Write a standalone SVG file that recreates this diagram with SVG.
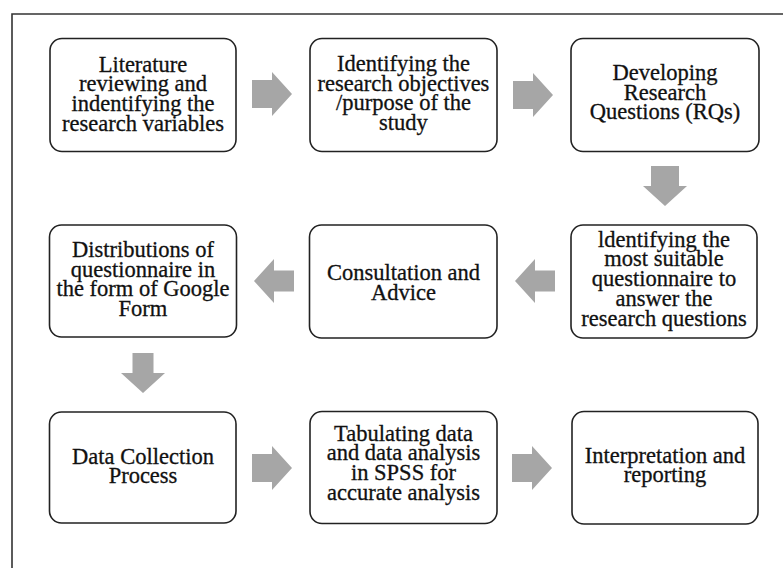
<svg xmlns="http://www.w3.org/2000/svg" xmlns:xlink="http://www.w3.org/1999/xlink" width="783" height="568" viewBox="0 0 783 568">
  <style>
    .box { fill: #ffffff; stroke: #222222; stroke-width: 1.6; }
    .lbl { font-size: 22.5px; fill: #111111; stroke: #111111; stroke-width: 0.3; text-anchor: middle; }
    .arrow { fill: #a6a6a6; stroke: none; }
    .frame { fill: none; stroke: #333333; stroke-width: 1.6; }
  </style>
  <defs>
    <!-- block arrows, drawn centred on the origin pointing right -->
    <path id="arrow-wide" d="M-20,-14 H0 V-22 L20,0 L0,22 V14 H-20 Z"/>
    <path id="arrow-thin" d="M-20,-10.5 H0 V-22 L20,0 L0,22 V10.5 H-20 Z"/>
  </defs>

  <rect width="783" height="568" fill="#ffffff"/>
  <path class="frame" d="M12,568 V14 H783"/>

  <g id="connectors" class="arrow">
    <use xlink:href="#arrow-wide" transform="translate(272,94)"/>
    <use xlink:href="#arrow-wide" transform="translate(533,95)"/>
    <use xlink:href="#arrow-wide" transform="translate(665,186) rotate(90)"/>
    <use xlink:href="#arrow-thin" transform="translate(535,281) rotate(180)"/>
    <use xlink:href="#arrow-thin" transform="translate(274,281) rotate(180)"/>
    <use xlink:href="#arrow-thin" transform="translate(143,373) rotate(90)"/>
    <use xlink:href="#arrow-wide" transform="translate(272,468)"/>
    <use xlink:href="#arrow-wide" transform="translate(532,468)"/>
  </g>

  <g font-family="'Liberation Serif', 'Times New Roman', Tinos, serif">
  <g id="literature-review">
    <rect class="box" x="50" y="38.5" width="186" height="113" rx="12"/>
    <text class="lbl" x="143" y="71.5">Literature</text>
    <text class="lbl" x="143" y="91.2">reviewing and</text>
    <text class="lbl" x="143" y="110.9">indentifying the</text>
    <text class="lbl" x="143" y="130.6">research variables</text>
  </g>

  <g id="research-objectives">
    <rect class="box" x="310" y="38.5" width="187" height="113" rx="12"/>
    <text class="lbl" x="403.5" y="71">Identifying the</text>
    <text class="lbl" x="403.5" y="90.7">research objectives</text>
    <text class="lbl" x="403.5" y="110.4">/purpose of the</text>
    <text class="lbl" x="403.5" y="130.1">study</text>
  </g>

  <g id="research-questions">
    <rect class="box" x="571" y="38.5" width="188" height="113" rx="12"/>
    <text class="lbl" x="665" y="80">Developing</text>
    <text class="lbl" x="665" y="99.7">Research</text>
    <text class="lbl" x="665" y="119.4">Questions (RQs)</text>
  </g>

  <g id="questionnaire-choice">
    <rect class="box" x="571" y="225" width="186" height="113" rx="12"/>
    <text class="lbl" x="664" y="246.7">ldentifying the</text>
    <text class="lbl" x="664" y="266.4">most suitable</text>
    <text class="lbl" x="664" y="286.1">questionnaire to</text>
    <text class="lbl" x="664" y="305.8">answer the</text>
    <text class="lbl" x="664" y="325.5">research questions</text>
  </g>

  <g id="consultation">
    <rect class="box" x="309.5" y="225" width="187.5" height="113" rx="12"/>
    <text class="lbl" x="403.5" y="280">Consultation and</text>
    <text class="lbl" x="403.5" y="299.7">Advice</text>
  </g>

  <g id="distribution">
    <rect class="box" x="49.5" y="225" width="187" height="112" rx="12"/>
    <text class="lbl" x="143" y="256.8">Distributions of</text>
    <text class="lbl" x="143" y="276.5">questionnaire in</text>
    <text class="lbl" x="143" y="296.2">the form of Google</text>
    <text class="lbl" x="143" y="315.9">Form</text>
  </g>

  <g id="data-collection">
    <rect class="box" x="49.5" y="412" width="186.5" height="111" rx="12"/>
    <text class="lbl" x="143" y="463.5">Data Collection</text>
    <text class="lbl" x="143" y="483.2">Process</text>
  </g>

  <g id="tabulation">
    <rect class="box" x="310" y="411.5" width="187" height="112" rx="12"/>
    <text class="lbl" x="403.5" y="440.5">Tabulating data</text>
    <text class="lbl" x="403.5" y="460.2">and data analysis</text>
    <text class="lbl" x="403.5" y="479.9">in SPSS for</text>
    <text class="lbl" x="403.5" y="499.6">accurate analysis</text>
  </g>

  <g id="interpretation">
    <rect class="box" x="572" y="411.5" width="186" height="112.5" rx="12"/>
    <text class="lbl" x="665" y="462.7">Interpretation and</text>
    <text class="lbl" x="665" y="482.4">reporting</text>
  </g>
  </g>
</svg>
